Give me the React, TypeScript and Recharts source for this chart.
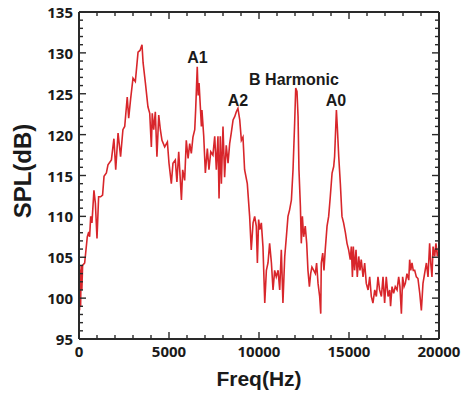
import React from 'react';
import { LineChart, Line, XAxis, YAxis, ReferenceDot } from 'recharts';

// spectrum (Hz, dB)
const freqHz = [
  0, 30, 60, 90, 120, 160, 200, 315, 460, 540, 590, 650, 720, 830, 910, 1000, 1090, 1200, 1310, 1390,
  1520, 1610, 1800, 1940, 2040, 2170, 2310, 2440, 2540, 2680, 2760, 2870, 3000, 3130, 3280, 3390, 3500, 3560, 3690, 3830,
  3930, 4020, 4070, 4150, 4240, 4330, 4430, 4520, 4610, 4760, 4910, 5000, 5130, 5220, 5350, 5440, 5540, 5630, 5690, 5760,
  5870, 5960, 6060, 6150, 6240, 6330, 6430, 6480, 6570, 6620, 6670, 6700, 6800, 6830, 6930, 7020, 7130, 7220, 7320, 7440,
  7540, 7630, 7720, 7780, 7850, 7910, 8000, 8090, 8180, 8280, 8370, 8460, 8560, 8650, 8740, 8830, 8930, 9020, 9110, 9200,
  9350, 9480, 9570, 9670, 9760, 9850, 9910, 9980, 10040, 10130, 10220, 10320, 10410, 10500, 10590, 10690, 10780, 10870, 10960, 11060,
  11150, 11240, 11330, 11430, 11520, 11610, 11700, 11800, 11890, 11980, 12040, 12110, 12170, 12220, 12300, 12350, 12410, 12480, 12570, 12650,
  12720, 12800, 12870, 12940, 13040, 13130, 13200, 13280, 13370, 13430, 13460, 13540, 13610, 13680, 13780, 13870, 13960, 14060, 14150, 14200,
  14300, 14350, 14430, 14520, 14610, 14700, 14800, 14890, 14980, 15070, 15130, 15190, 15240, 15310, 15390, 15460, 15540, 15610, 15680, 15780,
  15870, 15960, 16060, 16150, 16240, 16330, 16430, 16520, 16610, 16700, 16800, 16890, 16980, 17070, 17170, 17260, 17310, 17390, 17480, 17570,
  17670, 17760, 17830, 17910, 17980, 18060, 18130, 18220, 18320, 18370, 18430, 18500, 18570, 18650, 18740, 18830, 18930, 19020, 19110, 19200,
  19300, 19390, 19480, 19540, 19610, 19670, 19760, 19830, 19910, 19980, 20000,
];
const splDb = [
  100, 98.5, 103.5, 99, 104, 101, 104, 104.3, 107.5, 108.1, 107.5, 110.0, 109.2, 113.2, 111.6, 107.3, 112.4, 112.4, 112.6, 114.9,
  115.3, 116.3, 116.9, 119.5, 115.7, 120.2, 117.3, 120.6, 121.0, 124.6, 122.0, 124.4, 126.9, 126.5, 130.1, 130.3, 131.0, 128.8, 126.3, 123.4,
  122.6, 118.5, 122.6, 120.6, 122.8, 117.3, 122.4, 120.6, 119.3, 118.5, 119.1, 116.5, 114.0, 116.5, 116.9, 114.2, 117.9, 114.4, 112.0, 115.7,
  114.4, 119.3, 117.1, 118.9, 117.7, 119.7, 120.6, 123.0, 128.3, 124.8, 126.3, 125.1, 121.0, 123.0, 119.8, 115.3, 118.3, 115.7, 117.9, 117.5,
  119.8, 115.7, 119.8, 112.2, 119.8, 114.0, 121.0, 114.8, 118.7, 116.5, 118.9, 120.2, 121.8, 122.2, 122.8, 123.2, 121.8, 119.3, 119.7, 115.7,
  114.0, 110.0, 105.9, 109.2, 110.0, 108.8, 104.3, 109.6, 108.4, 109.2, 106.3, 99.4, 103.4, 104.3, 106.7, 104.3, 101.0, 103.4, 102.6, 103.4,
  101.0, 105.9, 99.4, 105.1, 107.5, 110.0, 110.8, 112.0, 115.7, 121.4, 125.7, 125.3, 122.2, 115.7, 111.2, 106.7, 110.0, 107.5, 108.8, 106.7,
  103.4, 101.4, 103.0, 103.8, 103.4, 103.0, 104.3, 101.8, 100.2, 98.1, 104.3, 105.5, 103.4, 105.9, 108.8, 110.0, 112.4, 115.3, 116.1, 117.3,
  123.0, 121.0, 117.3, 114.0, 110.0, 109.2, 108.0, 106.7, 105.9, 104.7, 106.3, 102.6, 106.3, 103.4, 105.9, 102.6, 105.1, 103.4, 104.7, 102.6,
  104.3, 101.8, 101.0, 102.6, 100.2, 99.4, 101.0, 100.2, 102.6, 101.0, 100.2, 102.6, 99.4, 102.6, 100.2, 101.0, 99.0, 101.4, 100.6, 101.4,
  101.0, 102.6, 101.4, 98.1, 102.6, 101.4, 101.8, 103.0, 102.2, 104.7, 103.4, 104.3, 103.4, 103.4, 102.6, 102.4, 100.6, 98.5, 101.8, 103.0,
  104.3, 102.6, 106.7, 104.3, 102.6, 106.3, 105.1, 106.7, 105.1, 105.9, 104.5,
];

const xLabels = [0, 5000, 10000, 15000, 20000];
const yLabels = [95, 100, 105, 110, 115, 120, 125, 130, 135];
// minor ticks every 1000 Hz / 1 dB
const xTicks = Array.from({ length: 21 }, (_, i) => i * 1000);
const yTicks = Array.from({ length: 41 }, (_, i) => 95 + i);

const peakNames = ['A1', 'A2', 'B Harmonic', 'A0'];
const peakFreq = [6583, 8833, 11944, 14278];
const peakDb = [129.4, 124.2, 126.8, 124.2];

const data = freqHz.map((f, i) => ({ f, spl: splDb[i] }));

const W = 467;
const H = 395;
const MARGIN = { top: 11, right: 27, bottom: 0, left: 0 };
const PLOT_W = 360; // 79 -> 439
const PLOT_H = 327; // 12 -> 339

const AXIS = '#2a2a2a';
const TICK_FONT = { fontFamily: '"Open Sans", sans-serif', fontWeight: 700, fontSize: 15, fill: '#1a1a1a' };
const titleStyle = { fontFamily: '"Liberation Sans", Arial, sans-serif', fontWeight: 700, fill: '#1a1a1a' };

// the top axis draws the inward marks on both the top and the bottom edge
const XTickMarks = (props: any) => {
  const { x, y, payload } = props;
  const len = xLabels.includes(payload.value) ? 7 : 4;
  return (
    <g>
      <rect x={x - 0.7} y={y} width={1.4} height={len} fill={AXIS} />
      <rect x={x - 0.7} y={y + PLOT_H - len} width={1.4} height={len} fill={AXIS} />
    </g>
  );
};

// the right axis draws the inward marks on both the right and the left edge
const YTickMarks = (props: any) => {
  const { x, y, payload } = props;
  const len = yLabels.includes(payload.value) ? 7 : 4;
  return (
    <g>
      <rect x={x - len} y={y - 0.7} width={len} height={1.4} fill={AXIS} />
      <rect x={x - PLOT_W} y={y - 0.7} width={len} height={1.4} fill={AXIS} />
    </g>
  );
};

const XTickLabel = (props: any) => (
  <text x={props.x} y={props.y + 18} textAnchor="middle" {...TICK_FONT}>{props.payload.value}</text>
);

const YTickLabel = (props: any) => (
  <text x={props.x - 6} y={props.y} textAnchor="end" dominantBaseline="central" {...TICK_FONT}>{props.payload.value}</text>
);

const axisBase = {
  type: 'number' as const,
  interval: 0 as const,
  tickSize: 0,
  tickMargin: 0,
  tickLine: false,
  allowDataOverflow: true,
};
const frameLine = { stroke: AXIS, strokeWidth: 2 };

export default function App() {
  return (
    <div style={{ position: 'absolute', left: 0, top: 0, width: W, height: H, background: '#fff' }}>
      <LineChart width={W} height={H} data={data} margin={MARGIN}>
        <XAxis xAxisId="b" dataKey="f" domain={[0, 20000]} ticks={xLabels} height={56} {...axisBase}
          axisLine={frameLine} tick={(p: any) => <XTickLabel {...p} />} />
        <XAxis xAxisId="t" orientation="top" dataKey="f" domain={[0, 20000]} ticks={xTicks} height={1} {...axisBase}
          axisLine={frameLine} tick={(p: any) => <XTickMarks {...p} />} />
        <YAxis yAxisId="l" domain={[95, 135]} ticks={yLabels} width={79} {...axisBase}
          axisLine={frameLine} tick={(p: any) => <YTickLabel {...p} />} />
        <YAxis yAxisId="r" orientation="right" domain={[95, 135]} ticks={yTicks} width={1} {...axisBase}
          axisLine={frameLine} tick={(p: any) => <YTickMarks {...p} />} />

        {/* invisible copy keeps the bottom/left axes tied to the data */}
        <Line xAxisId="b" yAxisId="l" dataKey="spl" stroke="none" dot={false} isAnimationActive={false} />
        <Line xAxisId="t" yAxisId="r" type="linear" dataKey="spl" stroke="#d8262b" strokeWidth={1.6} dot={false} isAnimationActive={false} />

        {peakNames.map((name, i) => (
          <ReferenceDot
            key={name}
            xAxisId="t"
            yAxisId="r"
            x={peakFreq[i]}
            y={peakDb[i]}
            r={0}
            stroke="none"
            label={{ value: name, position: 'center', fontSize: 16, ...titleStyle }}
          />
        ))}
        <text x={259} y={386} textAnchor="middle" fontSize={21} {...titleStyle}>Freq(Hz)</text>
        <text x={22} y={171} transform="rotate(-90 22 171)" textAnchor="middle" dominantBaseline="central" fontSize={24} {...titleStyle}>
          SPL(dB)
        </text>
      </LineChart>
    </div>
  );
}
